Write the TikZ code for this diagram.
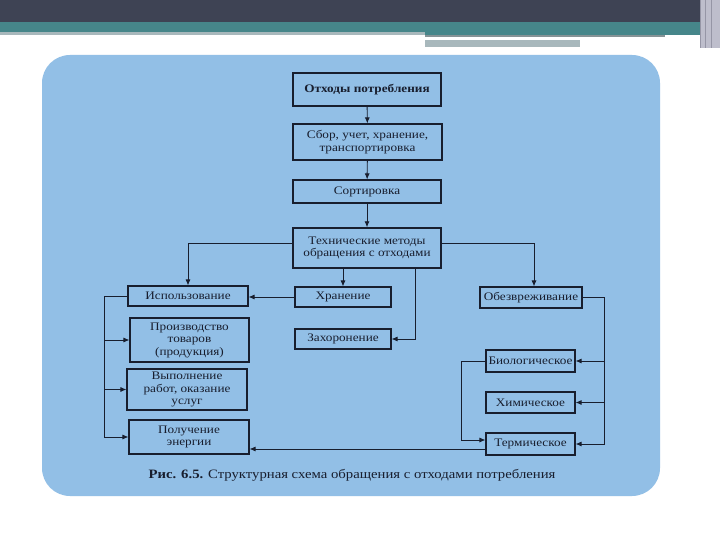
\documentclass[tikz,border=0pt]{standalone}
\usepackage{fontspec}
\setmainfont{Liberation Serif}[FakeStretch=1.15]
\usetikzlibrary{arrows.meta}
\definecolor{panel}{RGB}{146,191,230}
\definecolor{ink}{RGB}{24,30,46}
\definecolor{topbar}{RGB}{62,67,84}
\definecolor{teal}{RGB}{70,134,138}
\definecolor{grayline}{RGB}{168,184,188}
\definecolor{stripe}{RGB}{190,190,204}
\definecolor{stripedark}{RGB}{150,150,166}
\tikzset{
  box/.style={draw=ink, line width=1.1pt, text=ink, inner sep=1pt, align=center,
    font=\fontsize{11.5}{12.5}\selectfont},
  thickbox/.style={box, line width=1.8pt},
  conn/.style={draw=ink, line width=0.9pt},
  arr/.style={conn, -{Latex[length=6pt,width=5pt]}},
}
\begin{document}
\begin{tikzpicture}[x=1pt,y=-1pt]
\useasboundingbox (0,0) rectangle (720,540);
% header
\fill[white] (0,0) rectangle (720,540);
\fill[topbar] (0,0) rectangle (720,22);
\fill[teal] (0,22) rectangle (720,32);
\fill[grayline] (0,32) rectangle (425,35);
\fill[teal] (425,32) rectangle (700,35.5);
\fill[grayline!80!black] (425,35.5) rectangle (665,37);
\fill[grayline] (425,40) rectangle (580,47);
\fill[stripe] (700,0) rectangle (720,48);
\draw[stripedark, line width=1pt] (700,0) -- (700,48) (705,0) -- (705,48) (711,0) -- (711,48);
% panel
\fill[panel, rounded corners=28pt] (42,55) rectangle (660,496);
% nodes
\node[thickbox, minimum width=148pt, minimum height=33pt, font=\fontsize{11.5}{12.5}\selectfont\bfseries] (top) at (367,89.5) {Отходы потребления};
\node[box, minimum width=149pt, minimum height=36pt] (sbor) at (367.5,142) {Сбор, учет, хранение,\\транспортировка};
\node[box, minimum width=148pt, minimum height=23pt] (sort) at (367,191.5) {Сортировка};
\node[thickbox, line width=1.4pt, minimum width=148pt, minimum height=40pt] (tech) at (367,248) {Технические методы\\обращения с отходами};
\node[box, minimum width=120pt, minimum height=20pt] (isp) at (188,296) {Использование};
\node[box, minimum width=96pt, minimum height=20pt] (hran) at (343,297) {Хранение};
\node[box, minimum width=96pt, minimum height=20pt] (zah) at (343,339) {Захоронение};
\node[box, minimum width=102pt, minimum height=21pt] (obez) at (531,297.5) {Обезвреживание};
\node[box, minimum width=119pt, minimum height=44pt] (proizv) at (189.5,340) {Производство\\товаров\\(продукция)};
\node[box, minimum width=120pt, minimum height=41pt] (vyp) at (187,389.5) {Выполнение\\работ, оказание\\услуг};
\node[box, minimum width=120pt, minimum height=34pt] (poluch) at (189,437) {Получение\\энергии};
\node[box, minimum width=89pt, minimum height=22pt] (bio) at (530.5,361) {Биологическое};
\node[box, minimum width=89pt, minimum height=21pt] (him) at (530.5,402.5) {Химическое};
\node[box, minimum width=89pt, minimum height=22pt] (term) at (530.5,444) {Термическое};
\node[text=ink, font=\fontsize{12.8}{14}\selectfont] (cap) at (352,475) {\textbf{Рис. 6.5.} Структурная схема обращения с отходами потребления};
% connectors
\draw[arr] (top) -- (sbor);
\draw[arr] (sbor) -- (sort);
\draw[arr] (sort) -- (tech);
\draw[arr] ([yshift=5pt]tech.west) -| (isp.north);
\draw[arr] ([yshift=5pt]tech.east) -| ([xshift=3pt]obez.north);
\draw[arr] (hran.north |- tech.south) -- (hran.north);
\draw[arr] ([xshift=48pt]tech.south) |- (zah.east);
\draw[arr] (hran.west) -- (hran.west -| isp.east);
\coordinate (lbus) at (104,296);
\draw[arr] (isp.west) -- (lbus) |- (poluch.west);
\draw[arr] (lbus |- proizv.west) -- (proizv.west);
\draw[arr] (lbus |- vyp.west) -- (vyp.west);
\coordinate (rbus) at (604,297.5);
\draw[arr] (obez.east) -- (rbus) |- (term.east);
\draw[arr] (rbus |- bio.east) -- (bio.east);
\draw[arr] (rbus |- him.east) -- (him.east);
\draw[arr] (bio.west) -- ++(-24,0) |- ([yshift=4pt]term.west);
\draw[arr] ([yshift=-5pt]term.west) -- ([yshift=-5pt]term.west -| poluch.east);
\end{tikzpicture}
\end{document}
